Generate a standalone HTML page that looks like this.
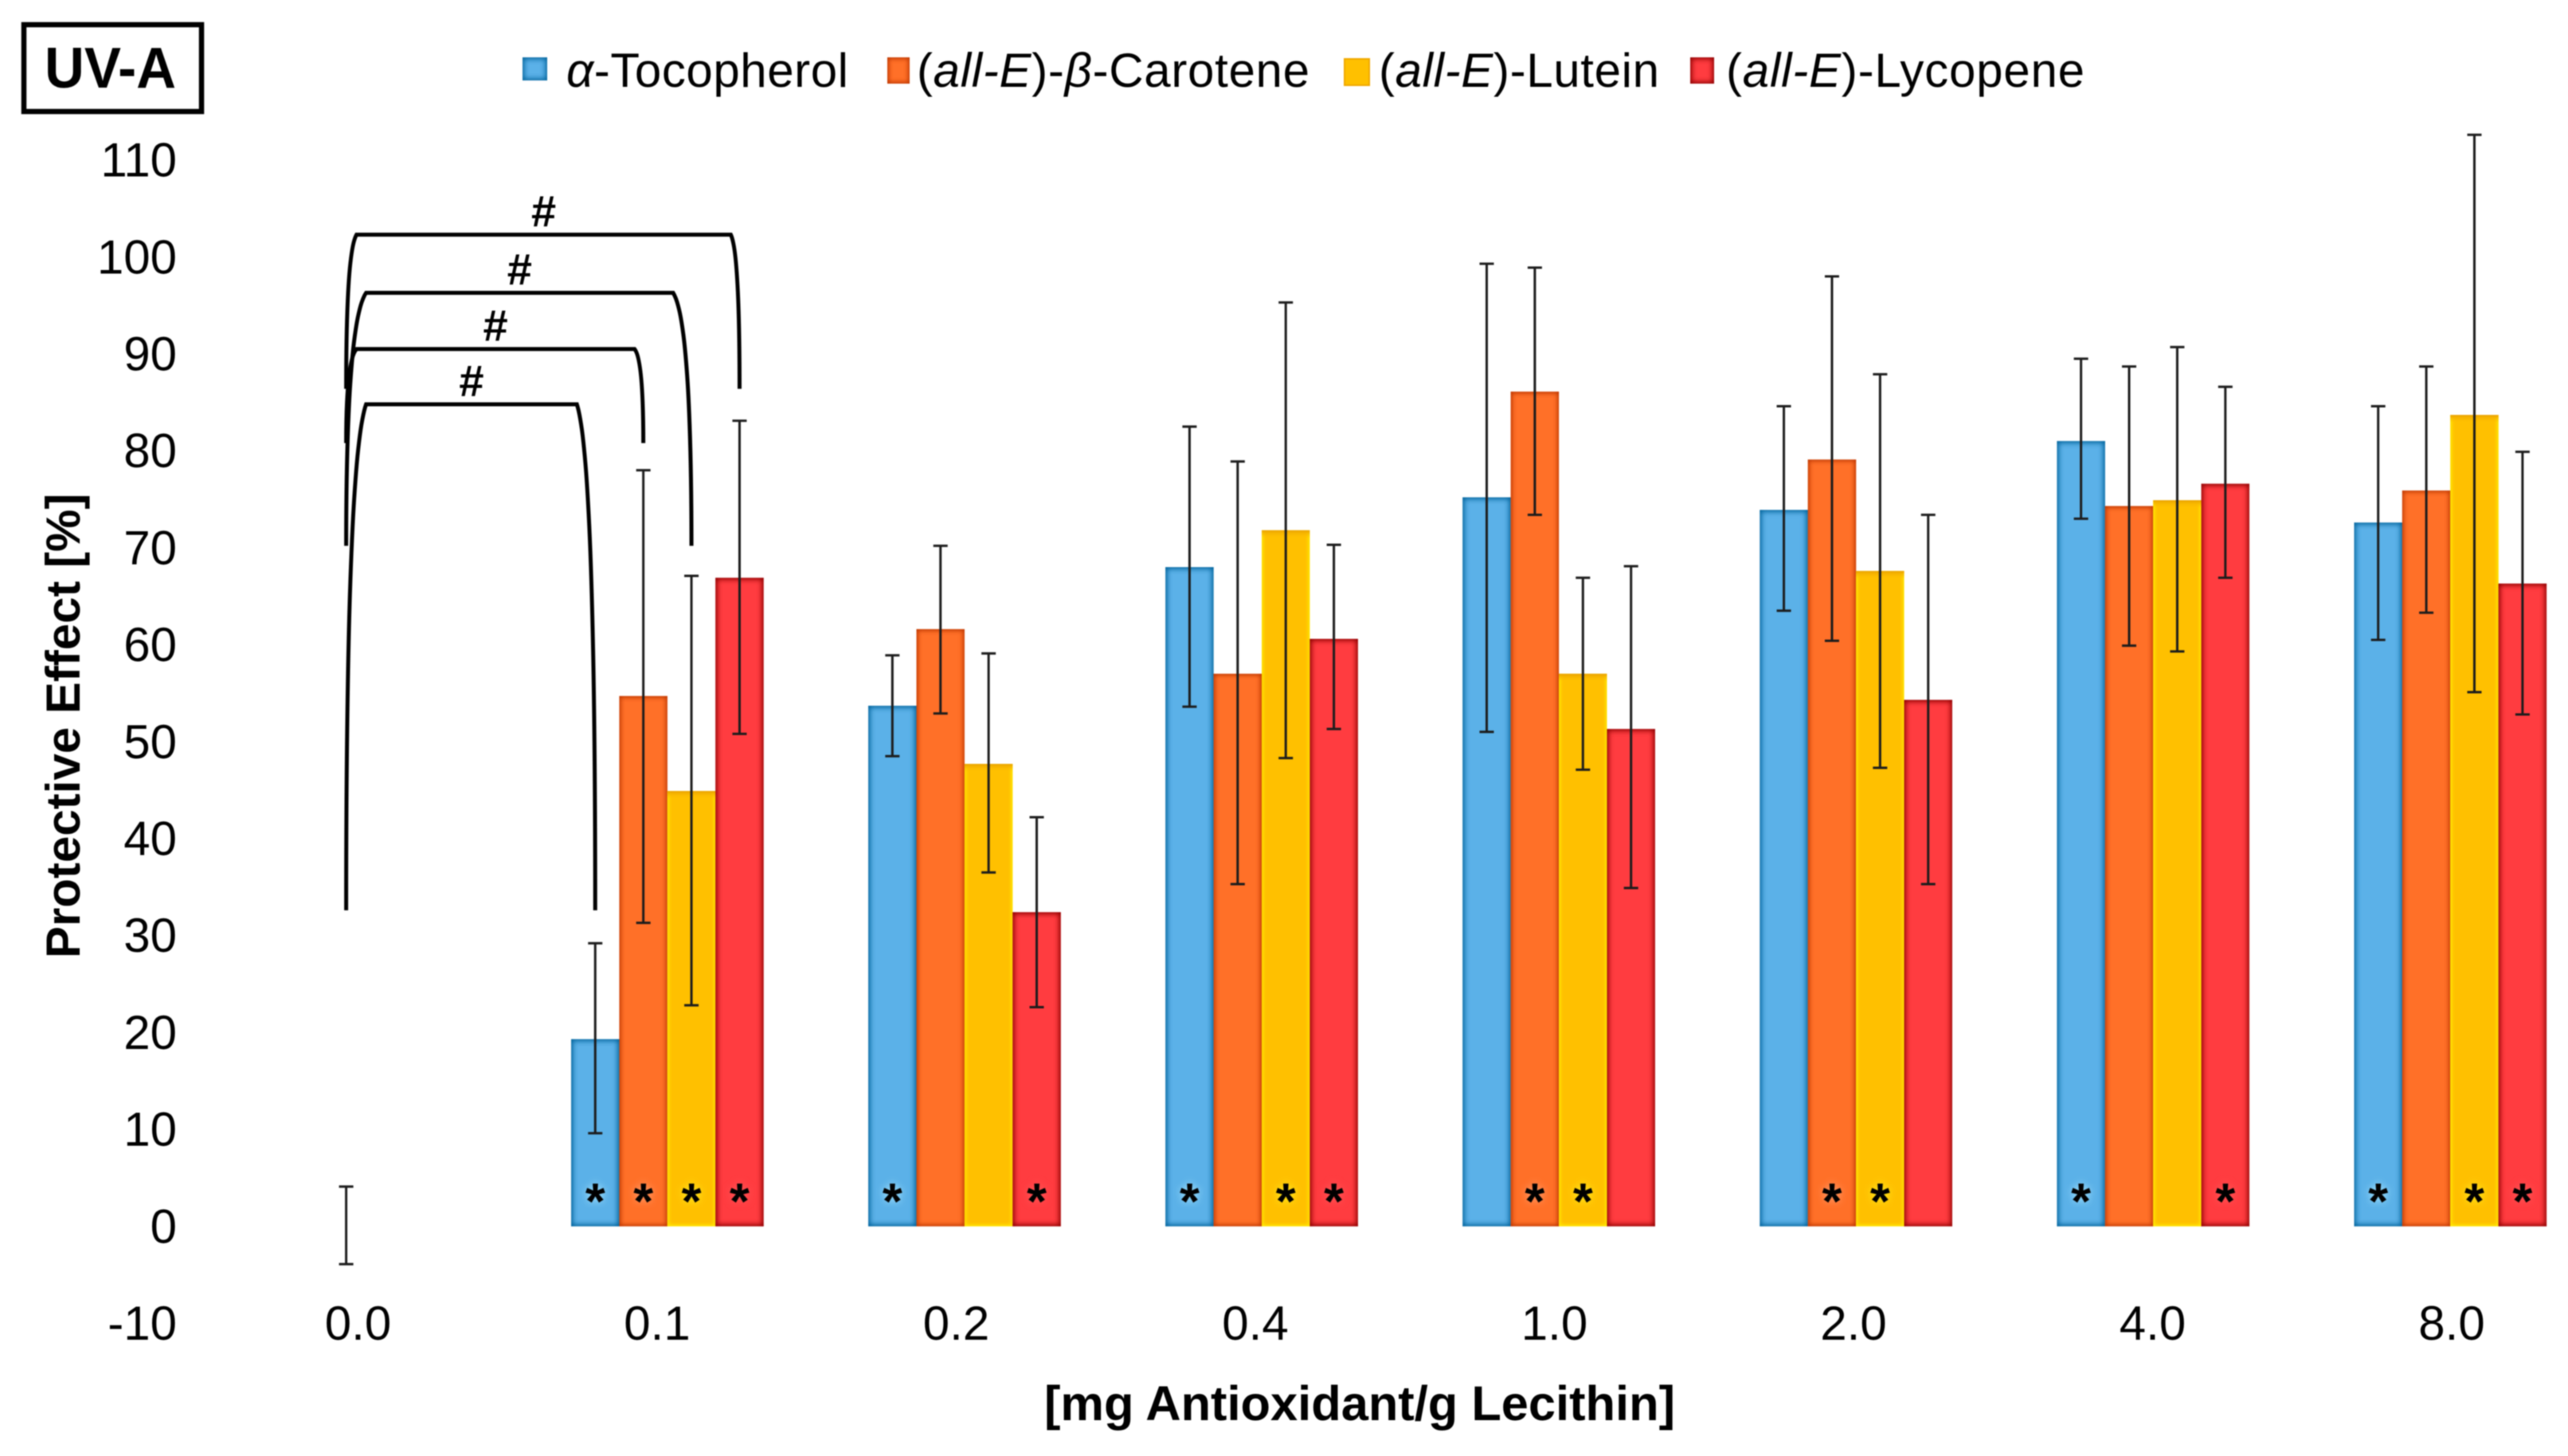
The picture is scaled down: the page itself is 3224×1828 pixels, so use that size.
<!DOCTYPE html>
<html lang="en">
<head>
<meta charset="utf-8">
<title>UV-A Protective Effect</title>
<style>
html,body{margin:0;padding:0;background:#fff;width:3224px;height:1828px;overflow:hidden}
svg{display:block;filter:blur(0.9px)}
text{font-family:"Liberation Sans",sans-serif;fill:#000}
.star{font-weight:700;font-size:64px;text-anchor:middle}
</style>
</head>
<body>
<svg id="chart" xmlns="http://www.w3.org/2000/svg" width="3224" height="1828" viewBox="0 0 3224 1828">
  <defs>
    <filter id="inner-blue" x="-30%" y="-30%" width="160%" height="160%" color-interpolation-filters="sRGB"><feFlood flood-color="#00629a"/><feComposite operator="out" in2="SourceAlpha"/><feGaussianBlur stdDeviation="4"/><feComposite operator="in" in2="SourceAlpha" result="s"/><feMerge><feMergeNode in="SourceGraphic"/><feMergeNode in="s"/><feMergeNode in="s"/></feMerge></filter>
    <filter id="inner-orange" x="-30%" y="-30%" width="160%" height="160%" color-interpolation-filters="sRGB"><feFlood flood-color="#bd3600"/><feComposite operator="out" in2="SourceAlpha"/><feGaussianBlur stdDeviation="3.5"/><feComposite operator="in" in2="SourceAlpha" result="s"/><feMerge><feMergeNode in="SourceGraphic"/><feMergeNode in="s"/><feMergeNode in="s"/></feMerge></filter>
    <filter id="inner-yellow" x="-30%" y="-30%" width="160%" height="160%" color-interpolation-filters="sRGB"><feFlood flood-color="#fff000"/><feComposite operator="out" in2="SourceAlpha"/><feGaussianBlur stdDeviation="3"/><feComposite operator="in" in2="SourceAlpha" result="s"/><feMerge><feMergeNode in="SourceGraphic"/><feMergeNode in="s"/><feMergeNode in="s"/></feMerge></filter>
    <filter id="inner-red" x="-30%" y="-30%" width="160%" height="160%" color-interpolation-filters="sRGB"><feFlood flood-color="#8c0000"/><feComposite operator="out" in2="SourceAlpha"/><feGaussianBlur stdDeviation="4"/><feComposite operator="in" in2="SourceAlpha" result="s"/><feMerge><feMergeNode in="SourceGraphic"/><feMergeNode in="s"/><feMergeNode in="s"/></feMerge></filter>
    <linearGradient id="yellow-top" x1="0" y1="0" x2="0" y2="1"><stop offset="0" stop-color="#e89c00"/><stop offset="1" stop-color="#ffc000" stop-opacity="0"/></linearGradient>
  </defs>

  <g>
    <rect x="30" y="31" width="223" height="109" fill="#fff" stroke="#000" stroke-width="6.5"/>
    <text x="56" y="110" font-size="72" font-weight="700" textLength="165" lengthAdjust="spacingAndGlyphs">UV-A</text>
  </g>

  <g>
    <g>
      <rect x="656" y="72" width="31" height="29" fill="#5bb1e8" filter="url(#inner-blue)"/>
      <text x="711" y="109" font-size="60" textLength="354"><tspan font-style="italic">α</tspan>-Tocopherol</text>
    </g>
    <g>
      <rect x="1114" y="72" width="28" height="33" fill="#ff7028" filter="url(#inner-orange)"/>
      <text x="1151" y="109" font-size="60" textLength="493">(<tspan font-style="italic">all-E</tspan>)-<tspan font-style="italic">β</tspan>-Carotene</text>
    </g>
    <g>
      <rect x="1688" y="74" width="31" height="33" fill="#ffc000" stroke="#f0a800" stroke-width="2"/>
      <text x="1731" y="109" font-size="60" textLength="352">(<tspan font-style="italic">all-E</tspan>)-Lutein</text>
    </g>
    <g>
      <rect x="2122" y="72" width="30" height="33" fill="#ff3c40" filter="url(#inner-red)"/>
      <text x="2167" y="109" font-size="60" textLength="450">(<tspan font-style="italic">all-E</tspan>)-Lycopene</text>
    </g>
  </g>

  <text transform="translate(100,1203) rotate(-90)" font-size="60" font-weight="700">Protective Effect [%]</text>
  <text x="1311" y="1783" font-size="61" font-weight="700" textLength="792" lengthAdjust="spacingAndGlyphs">[mg Antioxidant/g Lecithin]</text>

  <g id="y-ticks"></g>
  <g id="x-ticks"></g>
  <g id="bars"></g>
  <g id="stars"></g>
  <g id="errors"></g>
  <g id="brackets"></g>
</svg>

<script>
const categories = ['0.0','0.1','0.2','0.4','1.0','2.0','4.0','8.0'];
const yTicks = [110,100,90,80,70,60,50,40,30,20,10,0,-10];
const seriesKeys = ['tocopherol','carotene','lutein','lycopene'];

const tocopherol = [null,19.3,53.7,68.0,75.2,73.9,81.0,72.6];
const carotene   = [null,54.7,61.6,57.0,86.1,79.1,74.3,75.9];
const lutein     = [null,44.9,47.7,71.8,57.0,67.6,74.9,83.7];
const lycopene   = [null,66.9,32.4,60.6,51.3,54.3,76.6,66.3];

const tocopherolHigh = [null,29.2,58.9,82.5,99.3,84.6,89.5,84.6];
const tocopherolLow  = [null,9.6,48.5,53.6,51.0,63.5,73.0,60.5];
const caroteneHigh   = [4.1,78.0,70.2,78.9,98.9,98.0,88.7,88.7];
const caroteneLow    = [-3.9,31.3,52.9,35.3,73.4,60.4,59.9,63.3];
const luteinHigh     = [null,67.1,59.1,95.3,66.9,87.9,90.7,112.6];
const luteinLow      = [null,22.8,36.5,48.3,47.1,47.3,59.3,55.1];
const lycopeneHigh   = [null,83.1,42.2,70.3,68.1,73.4,86.6,79.9];
const lycopeneLow    = [null,50.8,22.6,51.3,34.9,35.3,66.9,52.8];

const starTocopherol = [0,1,1,1,0,0,1,1];
const starCarotene   = [0,1,0,0,1,1,0,0];
const starLutein     = [0,1,0,1,1,1,0,1];
const starLycopene   = [0,1,1,1,0,0,1,1];

const bracketTop  = [84.8,90.5,96.3,102.3];
const bracketFoot = [32.6,80.8,70.2,86.4];
const bracketMark = ['#','#','#','#'];

const seriesValues = [tocopherol,carotene,lutein,lycopene];
const seriesHigh = [tocopherolHigh,caroteneHigh,luteinHigh,lycopeneHigh];
const seriesLow = [tocopherolLow,caroteneLow,luteinLow,lycopeneLow];
const seriesStars = [starTocopherol,starCarotene,starLutein,starLycopene];
const seriesFill = ['#5bb1e8','#ff7028','#ffc000','#ff3c40'];
const seriesFilter = ['inner-blue','inner-orange','inner-yellow','inner-red'];
const seriesGlow = ['#a8e6ff','#ffa070','#ffee20','#ff5a5a'];

const SVGNS = 'http://www.w3.org/2000/svg';
const BAR_W = 60.4;
const yScale = v => 1539.6 - 12.17 * v;
const groupLeft = i => 344 + 373.07 * i;
const barLeft = (i, s) => groupLeft(i) + BAR_W * s;
const barCenter = (i, s) => barLeft(i, s) + BAR_W / 2;
const labelX = i => 449.5 + 375.5 * i;
const safe = t => String(t).replace('.', '-').replace('-10', 'minus-10');

function make(tag, parent, attrs) {
  const n = document.createElementNS(SVGNS, tag);
  for (const k in attrs) n.setAttribute(k, attrs[k]);
  parent.appendChild(n);
  return n;
}

const yG = document.getElementById('y-ticks');
yTicks.forEach(t => {
  const el = make('text', yG, {x: 222, y: yScale(t) + 20.7, 'font-size': 60, 'text-anchor': 'end'});
  
  
  el.textContent = t;
});

const xG = document.getElementById('x-ticks');
categories.forEach((c, i) => {
  const el = make('text', xG, {x: labelX(i), y: 1682, 'font-size': 60, 'text-anchor': 'middle'});
  
  
  el.textContent = c;
});

const barG = document.getElementById('bars');
const starG = document.getElementById('stars');
const errG = document.getElementById('errors');

categories.forEach((c, i) => {
  seriesKeys.forEach((key, s) => {
    const v = seriesValues[s][i];
    if (v !== null) {
      const el = make('rect', barG, {
        x: barLeft(i, s), y: yScale(v), width: BAR_W, height: yScale(0) - yScale(v),
        fill: seriesFill[s], filter: 'url(#' + seriesFilter[s] + ')'
      });
      
      
      if (s === 2) {
        const cap = make('rect', barG, {
          x: barLeft(i, s), y: yScale(v), width: BAR_W, height: 10, fill: 'url(#yellow-top)'
        });
        
        
      }
    }
    if (seriesStars[s][i]) {
      const el = make('text', starG, {x: barCenter(i, s), y: 1530, class: 'star', style: 'filter:drop-shadow(0 0 5px ' + seriesGlow[s] + ')'});
      
      
      el.textContent = '*';
    }
  });
});

categories.forEach((c, i) => {
  seriesKeys.forEach((key, s) => {
    const hi = seriesHigh[s][i], lo = seriesLow[s][i];
    if (hi === null) return;
    const cx = barCenter(i, s);
    const el = make('path', errG, {
      d: 'M' + (cx - 9) + ' ' + yScale(hi) + 'H' + (cx + 9) +
         'M' + cx + ' ' + yScale(hi) + 'V' + yScale(lo) +
         'M' + (cx - 9) + ' ' + yScale(lo) + 'H' + (cx + 9),
      fill: 'none', stroke: '#1c1c1c', 'stroke-width': 3
    });
    
    
  });
});

const brG = document.getElementById('brackets');
bracketTop.forEach((top, k) => {
  const xr = barCenter(1, k);
  const xl = barCenter(0, 1);
  const yt = yScale(top), yb = yScale(bracketFoot[k]);
  const insetL = k % 2 === 0 ? 25 : 13;
  const insetR = k % 2 === 0 ? 23 : 11;
  const h = yb - yt;
  const d = 'M' + xl + ' ' + yb +
    'C' + xl + ' ' + (yb - h * 0.55) + ' ' + (xl + insetL * 0.3) + ' ' + (yt + h * 0.08) + ' ' + (xl + insetL) + ' ' + yt +
    'H' + (xr - insetR) +
    'C' + (xr - insetR * 0.3) + ' ' + (yt + h * 0.08) + ' ' + xr + ' ' + (yb - h * 0.55) + ' ' + xr + ' ' + yb;
  const el = make('path', brG, {d: d, fill: 'none', stroke: '#000', 'stroke-width': 5});
  
  
  const mark = make('text', brG, {x: (xl + insetL + xr - insetR) / 2, y: yt - 10, 'font-size': 56, 'font-weight': 700, 'text-anchor': 'middle'});
  
  
  mark.textContent = bracketMark[k];
});
</script>
</body>
</html>
